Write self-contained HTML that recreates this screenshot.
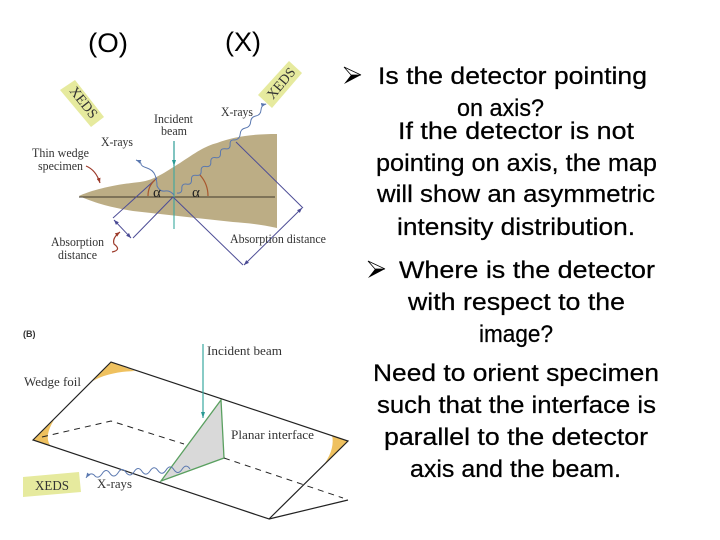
<!DOCTYPE html>
<html>
<head>
<meta charset="utf-8">
<style>
html,body{margin:0;padding:0;background:#fff;width:720px;height:540px;overflow:hidden}
svg{display:block}
.s{font-family:"Liberation Serif",serif;fill:#333;font-size:12.5px}
.t{font-family:"Liberation Sans",sans-serif;fill:#000;font-size:24px;stroke:#000;stroke-width:.25px}
</style>
</head>
<body>
<svg width="720" height="540" viewBox="0 0 720 540" xmlns="http://www.w3.org/2000/svg">
<defs>
<marker id="pu" markerUnits="userSpaceOnUse" markerWidth="5" markerHeight="4" refX="5" refY="2" orient="auto-start-reverse"><path d="M0,0L5,2L0,4z" fill="#4a4a94"/></marker>
<marker id="rd" markerUnits="userSpaceOnUse" markerWidth="5" markerHeight="4" refX="5" refY="2" orient="auto"><path d="M0,0L5,2L0,4z" fill="#9c3a2a"/></marker>
<marker id="te" markerUnits="userSpaceOnUse" markerWidth="6" markerHeight="4" refX="6" refY="2" orient="auto"><path d="M0,0L6,2L0,4z" fill="#2a9a94"/></marker>
<marker id="bl" markerUnits="userSpaceOnUse" markerWidth="5" markerHeight="4" refX="5" refY="2" orient="auto"><path d="M0,0L5,2L0,4z" fill="#5a78b0"/></marker>
</defs>

<!-- top labels -->
<text x="88" y="52" textLength="40" lengthAdjust="spacingAndGlyphs" style="font-family:'Liberation Sans',sans-serif;font-size:27px">(O)</text>
<text x="225" y="51" textLength="36" lengthAdjust="spacingAndGlyphs" style="font-family:'Liberation Sans',sans-serif;font-size:27px">(X)</text>

<!-- Diagram A -->
<path d="M79,196 C90,191 110,185 140,182 C155,180 165,172 180,163 C195,153 205,146 217,143 C235,136 255,134 277,134 L277,228 C260,224 245,223 233,222 L187,217 L133,211 C115,208 100,205 79,196z" fill="#bcad85"/>
<path d="M79,197H275" stroke="#3f392c" stroke-width="1"/>
<path d="M60,90L75,80L104,117L91,127z" fill="#e6ea9e"/>
<path d="M258,95L289,61L302,73L272,108z" fill="#e6ea9e"/>
<text class="s" transform="translate(69,91) rotate(52)" style="font-size:14px" textLength="36" lengthAdjust="spacingAndGlyphs">XEDS</text>
<text class="s" transform="translate(273,100) rotate(-50)" style="font-size:14px" textLength="36" lengthAdjust="spacingAndGlyphs">XEDS</text>

<path d="M174,141V229" stroke="#3aa89f" stroke-width="1.1" fill="none"/>
<path d="M174,141V166" stroke="#2a9a94" stroke-width="1.1" fill="none" marker-end="url(#te)"/>

<g stroke="#4d4d96" stroke-width="1" fill="none">
<path d="M173,197L133,238"/>
<path d="M157,178L113,218"/>
<path d="M173,197L243,265"/>
<path d="M236,142L303,208"/>
<path d="M114,220L131,238" marker-start="url(#pu)" marker-end="url(#pu)"/>
<path d="M302,208L244,265" marker-start="url(#pu)" marker-end="url(#pu)"/>
</g>

<g stroke="#5a78b0" stroke-width="1" fill="none">
<path d="M177,193q5.1,.8 4.83,-4.42q-.3,-5.2 4.83,-4.42q5.1,.8 4.83,-4.42q-.3,-5.2 4.83,-4.42q5.1,.8 4.83,-4.42q-.3,-5.2 4.83,-4.42q5.1,.8 4.83,-4.42q-.3,-5.2 4.83,-4.42q5.1,.8 4.83,-4.42q-.3,-5.2 4.83,-4.42q5.1,.8 4.83,-4.42q-.3,-5.2 4.83,-4.42"/>
<path d="M235,140q4.9,-1 5.2,-6q.3,-5 5.2,-6q4.9,-1 5.2,-6q.3,-5 5.2,-6q4.9,-1 5.2,-6q.3,-5 5.2,-6" marker-end="url(#bl)"/>
<path d="M174,195Q170,190 165,191T157,186Q157,180 155,175T147,168T141,164T136,160" marker-end="url(#bl)"/>
</g>

<g stroke="#a8562e" stroke-width="1.2" fill="none">
<path d="M148,196Q148,186 155,180"/>
<path d="M208,196Q208,184 200,175"/>
<path d="M86,166Q96,170 100,183" stroke="#9c3a2a" marker-end="url(#rd)"/>
<path d="M112,252Q122,250 114,244Q112,238 120,232" stroke="#9c3a2a" marker-end="url(#rd)"/>
</g>

<text x="153" y="197" style="font-family:'Liberation Serif',serif;font-size:15px;fill:#222">α</text>
<text x="192" y="197" style="font-family:'Liberation Serif',serif;font-size:15px;fill:#222">α</text>
<text class="s" x="101" y="146" textLength="32" lengthAdjust="spacingAndGlyphs">X-rays</text>
<text class="s" x="221" y="116" textLength="32" lengthAdjust="spacingAndGlyphs">X-rays</text>
<text class="s" x="154" y="123" textLength="39" lengthAdjust="spacingAndGlyphs">Incident</text>
<text class="s" x="161" y="135" textLength="26" lengthAdjust="spacingAndGlyphs">beam</text>
<text class="s" x="32" y="157" textLength="57" lengthAdjust="spacingAndGlyphs">Thin wedge</text>
<text class="s" x="38" y="170" textLength="45" lengthAdjust="spacingAndGlyphs">specimen</text>
<text class="s" x="51" y="246" textLength="53" lengthAdjust="spacingAndGlyphs">Absorption</text>
<text class="s" x="58" y="259" textLength="39" lengthAdjust="spacingAndGlyphs">distance</text>
<text class="s" x="230" y="243" textLength="96" lengthAdjust="spacingAndGlyphs">Absorption distance</text>

<!-- Diagram B -->
<text x="23" y="337" style="font-family:'Liberation Sans',sans-serif;font-size:9px;font-weight:bold;fill:#333">(B)</text>
<path d="M111,362L135,371Q108,372 93,381z" fill="#efc15f"/>
<path d="M33,440L54,420Q44,436 50,445z" fill="#efc15f"/>
<path d="M348,441L325,463Q335,448 332,435z" fill="#efc15f"/>

<path d="M221,400L224,458L161,481z" fill="#d9d9d9" stroke="#5aa060" stroke-width="1.3"/>
<path d="M33,440L111,362L348,441L269,519z" fill="none" stroke="#222" stroke-width="1.2"/>
<path d="M269,519L348,500" fill="none" stroke="#222" stroke-width="1.2"/>
<path d="M42,437L111,421L184,444M224,458L343,498" fill="none" stroke="#222" stroke-width="1" stroke-dasharray="6 5"/>

<path d="M203,344V418" stroke="#3aa89f" stroke-width="1.2" fill="none" marker-end="url(#te)"/>
<path d="M190,469q-4,-6 -8,.4q-4,6 -8,.4q-4,-6 -8,.4q-4,6 -8,.4q-4,-6 -8,.4q-4,6 -8,.4q-4,-6 -8,.5q-4,6 -8,.5q-4,-6 -8,.5q-4,6 -8,.5q-4,-6 -8,.5q-4,6 -8,1q-4,-3 -8,3" stroke="#5a78b0" stroke-width="1" fill="none" marker-end="url(#bl)"/>

<path d="M23,477L79,472L81,492L23,497z" fill="#e6ea9e"/>
<text class="s" x="35" y="490" style="font-size:14px" textLength="34" lengthAdjust="spacingAndGlyphs">XEDS</text>
<text class="s" x="207" y="355" style="font-size:13px" textLength="75" lengthAdjust="spacingAndGlyphs">Incident beam</text>
<text class="s" x="24" y="386" style="font-size:13px" textLength="57" lengthAdjust="spacingAndGlyphs">Wedge foil</text>
<text class="s" x="231" y="439" style="font-size:13px" textLength="83" lengthAdjust="spacingAndGlyphs">Planar interface</text>
<text class="s" x="97" y="488" style="font-size:13px" textLength="35" lengthAdjust="spacingAndGlyphs">X-rays</text>

<!-- Bullets -->
<path d="M344,67L361,75L344,84L351,75z" fill="#000"/>
<path d="M344,67L361,75L351,75z" fill="#fff" stroke="#000" stroke-width="0.8"/>
<path d="M368,261L385,269L368,278L375,269z" fill="#000"/>
<path d="M368,261L385,269L375,269z" fill="#fff" stroke="#000" stroke-width="0.8"/>

<!-- Right text -->
<text class="t" x="378" y="84" textLength="269" lengthAdjust="spacingAndGlyphs">Is the detector pointing</text>
<text class="t" x="457" y="116" textLength="87" lengthAdjust="spacingAndGlyphs">on axis?</text>
<text class="t" x="398" y="139" textLength="236" lengthAdjust="spacingAndGlyphs">If the detector is not</text>
<text class="t" x="376" y="171" textLength="281" lengthAdjust="spacingAndGlyphs">pointing on axis, the map</text>
<text class="t" x="377" y="202" textLength="278" lengthAdjust="spacingAndGlyphs">will show an asymmetric</text>
<text class="t" x="397" y="235" textLength="238" lengthAdjust="spacingAndGlyphs">intensity distribution.</text>
<text class="t" x="399" y="278" textLength="256" lengthAdjust="spacingAndGlyphs">Where is the detector</text>
<text class="t" x="408" y="310" textLength="217" lengthAdjust="spacingAndGlyphs">with respect to the</text>
<text class="t" x="479" y="342" textLength="74" lengthAdjust="spacingAndGlyphs">image?</text>
<text class="t" x="373" y="381" textLength="286" lengthAdjust="spacingAndGlyphs">Need to orient specimen</text>
<text class="t" x="377" y="413" textLength="279" lengthAdjust="spacingAndGlyphs">such that the interface is</text>
<text class="t" x="384" y="445" textLength="264" lengthAdjust="spacingAndGlyphs">parallel to the detector</text>
<text class="t" x="410" y="477" textLength="211" lengthAdjust="spacingAndGlyphs">axis and the beam.</text>
</svg>
</body>
</html>
